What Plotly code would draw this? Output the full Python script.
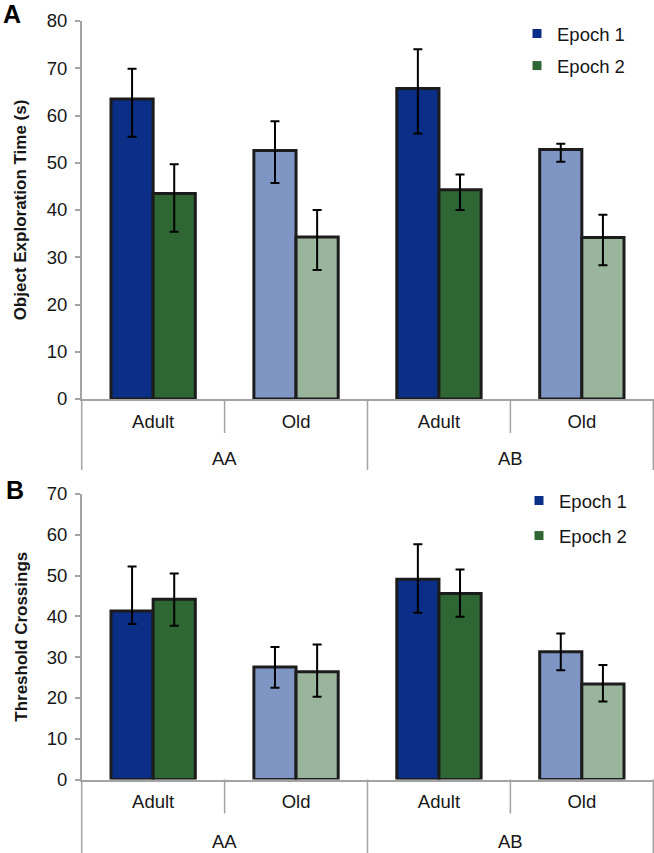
import plotly.graph_objects as go

# ---------------- data ----------------
groups = ["AA", "AA", "AB", "AB"]
ages = ["Adult", "Old", "Adult", "Old"]
group_names = ["AA", "AB"]
series_names = ["Epoch 1", "Epoch 2"]

# Panel A: Object Exploration Time (s)
expl_e1 = [63.5, 52.6, 65.7, 52.8]
expl_e1_up = [6.4, 6.2, 8.3, 1.2]
expl_e1_dn = [8.0, 6.9, 9.5, 2.6]
expl_e2 = [43.5, 34.3, 44.3, 34.2]
expl_e2_up = [6.2, 5.7, 3.2, 4.8]
expl_e2_dn = [8.1, 7.0, 4.3, 5.9]

# Panel B: Threshold Crossings
cross_e1 = [41.3, 27.6, 49.1, 31.3]
cross_e1_up = [10.9, 4.9, 8.6, 4.5]
cross_e1_dn = [3.2, 5.1, 8.2, 4.5]
cross_e2 = [44.2, 26.4, 45.6, 23.4]
cross_e2_up = [6.3, 6.7, 5.9, 4.7]
cross_e2_dn = [6.5, 6.1, 5.7, 4.3]

yticks_a = [0, 10, 20, 30, 40, 50, 60, 70, 80]
yticks_b = [0, 10, 20, 30, 40, 50, 60, 70]

# ---------------- style ----------------
W, H = 654, 853
FONT = "Liberation Sans, Arial, sans-serif"
TXT = "#161616"
GREY = "#a3a3a3"
DARK_BLUE, LIGHT_BLUE = "#0b2e86", "#7f96c5"
DARK_GREEN, LIGHT_GREEN = "#2f6734", "#99b59c"
cols_e1 = [DARK_BLUE, LIGHT_BLUE, DARK_BLUE, LIGHT_BLUE]
cols_e2 = [DARK_GREEN, LIGHT_GREEN, DARK_GREEN, LIGHT_GREEN]

x_left, x_right = 81.7, 653.3
a_top, a_bot = 21.0, 399.0
b_top, b_bot = 494.0, 779.5

def px_x(p):
    return p / W

def px_y(p):
    return 1 - p / H

cat_ids = [g + " " + a for g, a in zip(groups, ages)]

fig = go.Figure()

panels = [
    ("x", "y", (expl_e1, expl_e1_up, expl_e1_dn), (expl_e2, expl_e2_up, expl_e2_dn)),
    ("x2", "y2", (cross_e1, cross_e1_up, cross_e1_dn), (cross_e2, cross_e2_up, cross_e2_dn)),
]
for xa, ya, s1, s2 in panels:
    for (vals, up, dn), cols, name in ((s1, cols_e1, series_names[0]), (s2, cols_e2, series_names[1])):
        fig.add_trace(go.Bar(
            x=cat_ids, y=vals, name=name, xaxis=xa, yaxis=ya, showlegend=False,
            marker=dict(color=cols, line=dict(color="#1c1c1c", width=3)),
            error_y=dict(type="data", symmetric=False, array=up, arrayminus=dn,
                         color="#000000", thickness=2, width=4.5),
        ))

# legend-only entries (one legend per panel)
for leg in ("legend", "legend2"):
    for name, col in zip(series_names, (DARK_BLUE, DARK_GREEN)):
        fig.add_trace(go.Scatter(
            x=[None], y=[None], xaxis="x3", yaxis="y3", mode="markers", name=name,
            legend=leg, legendgroup=leg + name,
            marker=dict(symbol="square", size=9, color=col),
        ))

xaxis_common = dict(
    type="category", domain=[px_x(x_left), px_x(x_right)], range=[-0.5, 3.5],
    categoryorder="array", categoryarray=cat_ids,
    tickvals=cat_ids, ticktext=ages, automargin=False,
    showline=True, linecolor=GREY, linewidth=1.5, ticks="", ticklabelstandoff=5,
    tickfont=dict(family=FONT, size=18.5, color=TXT), showgrid=False,
)
yaxis_common = dict(
    showline=True, linecolor=GREY, linewidth=1.5, ticks="outside", ticklen=5,
    tickcolor=GREY, tickwidth=1.5, showgrid=False, zeroline=False, automargin=False,
    ticklabelstandoff=4,
    tickfont=dict(family=FONT, size=18.5, color=TXT),
)

fig.update_layout(
    width=W, height=H, autosize=False,
    margin=dict(l=0, r=0, t=0, b=0, autoexpand=False),
    paper_bgcolor="white", plot_bgcolor="white",
    barmode="group", bargap=0.41, bargroupgap=0,
    font=dict(family=FONT, color=TXT),
    xaxis=dict(anchor="y", **xaxis_common),
    xaxis2=dict(anchor="y2", **xaxis_common),
    yaxis=dict(anchor="x", domain=[px_y(a_bot), px_y(a_top)], range=[0, 80],
               tickvals=yticks_a,
               title=dict(text="<b>Object Exploration Time (s)</b>", standoff=16,
                          font=dict(family=FONT, size=17, color=TXT)),
               **yaxis_common),
    yaxis2=dict(anchor="x2", domain=[px_y(b_bot), px_y(b_top)], range=[0, 70],
                tickvals=yticks_b,
                title=dict(text="<b>Threshold Crossings</b>", standoff=15,
                           font=dict(family=FONT, size=17, color=TXT)),
                **yaxis_common),
    xaxis3=dict(visible=False, domain=[0, 0.01], anchor="y3"),
    yaxis3=dict(visible=False, domain=[0, 0.01], anchor="x3"),
    legend=dict(x=px_x(517), y=px_y(15), xanchor="left", yanchor="top",
                bgcolor="rgba(0,0,0,0)", tracegroupgap=5,
                font=dict(family=FONT, size=18.5, color=TXT)),
    legend2=dict(x=px_x(519), y=px_y(482), xanchor="left", yanchor="top",
                 bgcolor="rgba(0,0,0,0)", tracegroupgap=8,
                 font=dict(family=FONT, size=18.5, color=TXT)),
)

# category dividers below each x axis
shapes = []
annotations = []
for xref, bot, end, lab_off in (("x", a_bot, 470.0, 60.0), ("x2", b_bot, 853.0, 62.0)):
    # short dividers between Adult | Old
    for b in (0.5, 2.5):
        shapes.append(dict(type="line", xref=xref, yref="paper", x0=b, x1=b,
                           y0=px_y(bot), y1=px_y(bot + 34),
                           line=dict(color=GREY, width=1.5)))
    # long dividers between AA | AB
    shapes.append(dict(type="line", xref=xref, yref="paper", x0=1.5, x1=1.5,
                       y0=px_y(bot), y1=px_y(end), line=dict(color=GREY, width=1.5)))
    for d in (0, 1):
        shapes.append(dict(type="line", xref=xref + " domain", yref="paper", x0=d, x1=d,
                           y0=px_y(bot), y1=px_y(end), line=dict(color=GREY, width=1.5)))
    # outer group labels
    for gi, g in enumerate(group_names):
        annotations.append(dict(text=g, xref=xref, yref="paper", x=gi * 2 + 0.5,
                                y=px_y(bot + lab_off), xanchor="center", yanchor="middle",
                                showarrow=False,
                                font=dict(family=FONT, size=18.5, color=TXT)))

annotations.append(dict(text="<b>A</b>", xref="paper", yref="paper", x=px_x(12), y=px_y(14.5),
                        xanchor="center", yanchor="middle",
                        showarrow=False, font=dict(family=FONT, size=25, color="#000")))
annotations.append(dict(text="<b>B</b>", xref="paper", yref="paper", x=px_x(15), y=px_y(490),
                        xanchor="center", yanchor="middle",
                        showarrow=False, font=dict(family=FONT, size=25, color="#000")))
fig.update_layout(shapes=shapes, annotations=annotations)

fig.write_html("out.html", config={"displayModeBar": False},
               post_script="document.body.style.margin='0px';")
